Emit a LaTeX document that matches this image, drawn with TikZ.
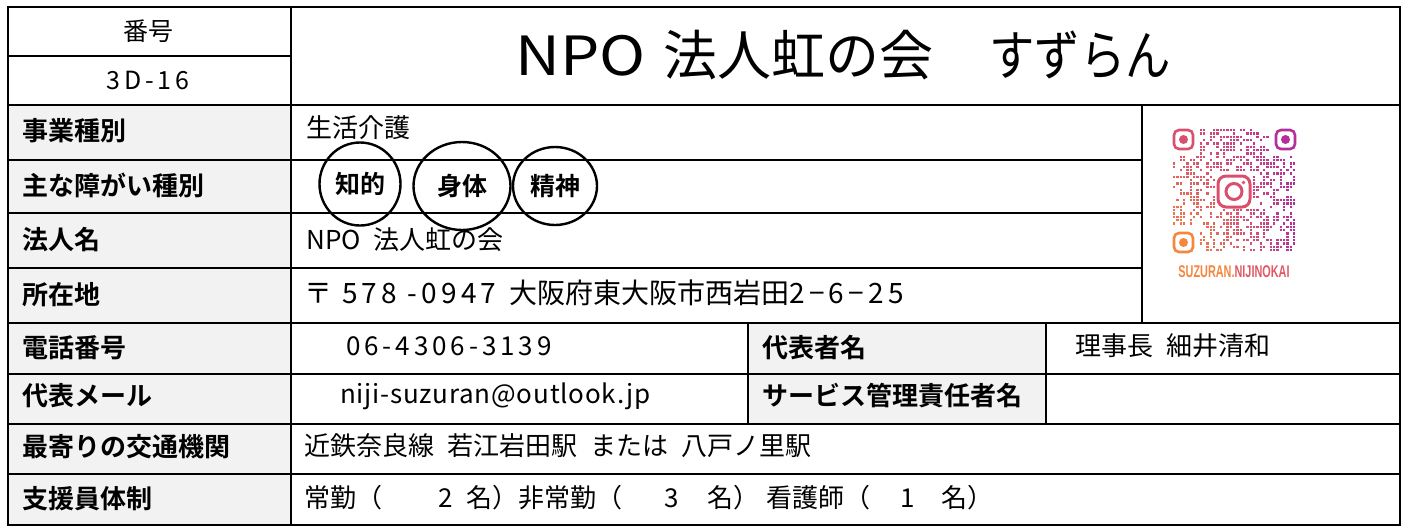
\documentclass[tikz,border=0pt]{standalone}
\usepackage{graphicx}
\usepackage{fontspec}
\setmainfont{Noto Sans CJK JP}[BoldFont={Noto Sans CJK JP Bold}]
\newfontfamily\digitfont{Noto Sans CJK JP}[LetterSpace=15]
\newfontfamily\mailfont{Noto Sans CJK JP}[LetterSpace=3]
\newfontfamily\qrfont{Liberation Sans}[BoldFont={Liberation Sans Bold}]
\newcommand\valuefont[1]{\fontsize{#1}{#1}\selectfont\fontdimen2\font=13pt\relax}
\usetikzlibrary{shapes.geometric}

\definecolor{cellgray}{HTML}{F2F2F2}
\definecolor{qrred}{HTML}{D9506E}
\definecolor{qrmag}{HTML}{B42E9C}
\definecolor{qrorange}{HTML}{F3873F}

\tikzset{
  tableline/.style={line width=2.6pt},
  labeltext/.style={anchor=west, inner sep=0pt, font=\fontsize{26}{26}\selectfont\bfseries},
  valuetext/.style={anchor=west, inner sep=0pt, font=\valuefont{26}},
  headtext/.style={inner sep=0pt, font=\fontsize{25}{25}\selectfont},
  typemark/.style={ellipse, draw, line width=2.4pt, inner sep=0pt, font=\fontsize{25}{25}\selectfont\bfseries},
  finder/.style={line width=2.6pt, rounded corners=5pt},
}

\begin{document}
\begin{tikzpicture}[x=1pt,y=-1pt]
      \useasboundingbox (0,0) rectangle (1408,528);

      \fill [cellgray] (8,105) rectangle (291,525);
      \fill [cellgray] (748,323) rectangle (1046,424);

      \node [headtext] (numhead) at (148,31) {番号};
      \node [headtext] (numval) at (148,80) {\digitfont 3D-16};
      \node [anchor=west, inner sep=0pt, font=\fontsize{54}{54}\selectfont] (title) at (515,55)
        {\scalebox{1.15}[1]{NPO}\hspace{18pt}法人虹の会\hspace{56pt}\scalebox{0.84}[1]{すずらん}};

      \node [labeltext] (kind) at (22,131) {事業種別};
      \node [labeltext] (target) at (22,185) {主な障がい種別};
      \node [labeltext] (corp) at (22,240) {法人名};
      \node [labeltext] (place) at (22,295) {所在地};
      \node [labeltext] (phone) at (22,348) {電話番号};
      \node [labeltext] (mail) at (22,396) {代表メール};
      \node [labeltext] (access) at (22,447) {最寄りの交通機関};
      \node [labeltext] (staff) at (22,499) {支援員体制};
      \node [labeltext] (head) at (762,348) {代表者名};
      \node [labeltext] (manager) at (762,396) {サービス管理責任者名};

      \node [valuetext] (kindval) at (306,128) {生活介護};
      \node [valuetext] (corpval) at (306,240) {NPO 法人虹の会};
      \node [valuetext, font=\valuefont{28}] (placeval) at (304,293) {〒\hspace{10pt}{\digitfont 578 -0947} 大阪府東大阪市西岩田{\digitfont 2−6−25}};
      \node [valuetext] (phoneval) at (346,346) {\digitfont 06-4306-3139};
      \node [valuetext] (mailval) at (340,396) {\mailfont niji-suzuran@outlook.jp};
      \node [valuetext] (headval) at (1075,346) {理事長 細井清和};
      \node [valuetext] (accessval) at (304,446) {近鉄奈良線 若江岩田駅 または 八戸ノ里駅};
      \node [valuetext] (staffval) at (304,498) {常勤（\hspace{56pt}2\hspace{14pt}名）非常勤（\hspace{42pt}3\hspace{28pt}名）\hspace{7pt}看護師（\hspace{30pt}1\hspace{27pt}名）};

      \draw [tableline] (8,7) rectangle (1400,525);
      \draw [tableline] (291,7) -- (291,525);
      \draw [tableline] (8,56) -- (291,56);
      \draw [tableline] (8,105) -- (1400,105);
      \draw [tableline] (8,160) -- (1142,160);
      \draw [tableline] (8,213) -- (1142,213);
      \draw [tableline] (8,268) -- (1142,268);
      \draw [tableline] (1142,105) -- (1142,323);
      \draw [tableline] (8,323) -- (1400,323);
      \draw [tableline] (8,374) -- (1400,374);
      \draw [tableline] (8,424) -- (1400,424);
      \draw [tableline] (8,474) -- (1400,474);
      \draw [tableline] (748,323) -- (748,424);
      \draw [tableline] (1046,323) -- (1046,424);

      \node [typemark, minimum width=81pt, minimum height=83pt] (mind) at (360,184) {知的};
      \node [typemark, minimum width=97pt, minimum height=88pt] (body) at (462,186) {身体};
      \node [typemark, minimum width=84pt, minimum height=78pt] (psych) at (555,186) {精神};

      \pgfmathsetseed{528}
      \foreach \i in {0,...,36}{
        \foreach \j in {0,...,36}{
          \pgfmathrandominteger{\qrbit}{0}{99}
          \pgfmathtruncatemacro{\qrfree}{((\i<8 && \j<8) || (\i>28 && \j<8) || (\i<8 && \j>28) || (\i>12 && \i<24 && \j>12 && \j<24)) ? 0 : 1}
          \ifnum\qrfree=1 \ifnum\qrbit<50
            \pgfmathtruncatemacro{\qru}{100*\i/36}
            \pgfmathtruncatemacro{\qrv}{100*(\j/36)*(1-\i/36)}
            \colorlet{qrtop}{qrmag!\qru!qrred}
            \fill [qrorange!\qrv!qrtop] (1173+\i*3.33,129+\j*3.33) rectangle ++(2.3,2.3);
          \fi\fi
        }
      }

      \draw [finder, qrred] (1174,130) rectangle (1193,149);
      \fill [qrred] (1183.5,139.5) circle (4.5);
      \draw [finder, qrmag] (1276,130) rectangle (1295,149);
      \fill [qrmag] (1285.5,139.5) circle (4.5);
      \draw [finder, qrorange] (1174,233) rectangle (1193,252);
      \fill [qrorange] (1183.5,242.5) circle (4.5);

      \draw [line width=3pt, qrred, rounded corners=8pt] (1218,176) rectangle (1250,207);
      \draw [line width=3pt, qrred] (1234,191.5) circle (8);
      \fill [qrred] (1243.5,182.5) circle (1.8);

      \node [inner sep=0pt, xscale=0.64, font=\qrfont\bfseries\fontsize{17}{17}\selectfont] (qrname) at (1234,272)
        {\textcolor{qrorange}{SUZURAN.}\textcolor{qrred!80!qrorange}{NIJINOKAI}};
    \end{tikzpicture}
\end{document}
